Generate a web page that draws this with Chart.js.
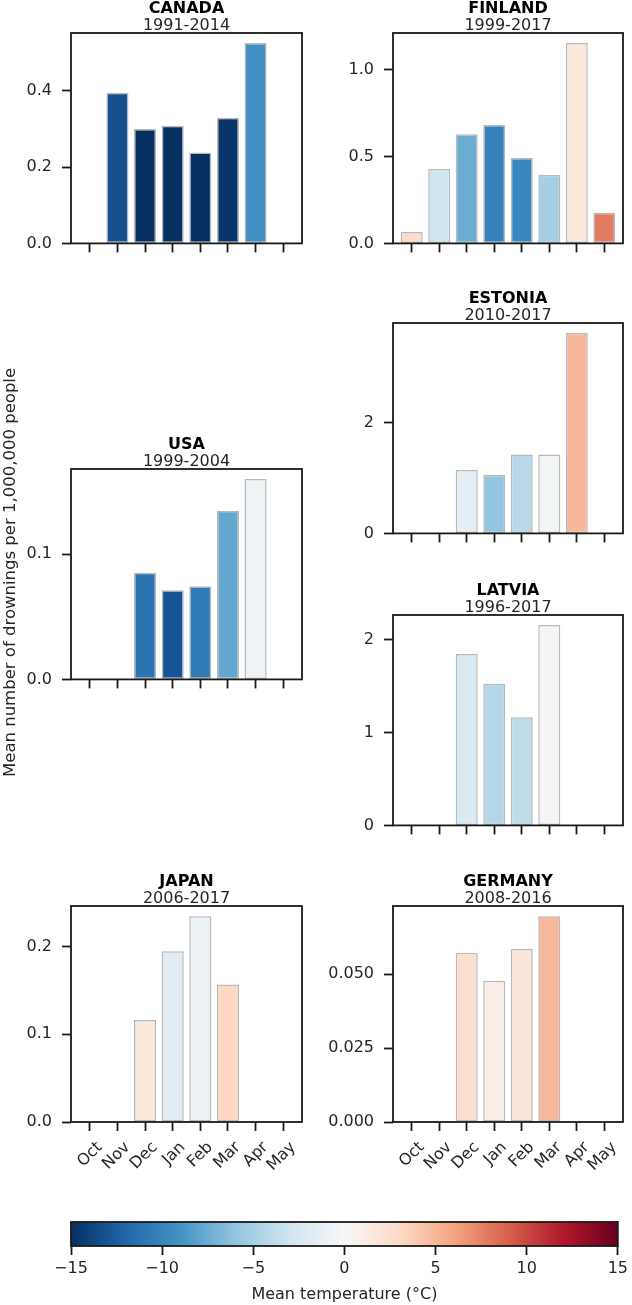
<!DOCTYPE html>
<html>
<head>
<meta charset="utf-8">
<script src="https://cdn.jsdelivr.net/npm/chart.js@4.4.0/dist/chart.umd.min.js"></script>
<style>
  html, body { margin: 0; padding: 0; background: #fff; }
  body { width: 632px; height: 1305px; position: relative; overflow: hidden; font-family: "DejaVu Sans", sans-serif; }
  canvas { position: absolute; }
  #ylab { position: absolute; left: 0; top: 0; width: 19px; height: 1144px; line-height: 19px;
          writing-mode: vertical-rl; transform: rotate(180deg); text-align: center;
          white-space: nowrap; font-size: 16.5px; font-weight: normal; color: #262626; }
</style>
</head>
<body>
<canvas id="canada"  width="310" height="265" style="left:0;top:-2px"></canvas>
<canvas id="finland" width="316" height="265" style="left:316px;top:-2px"></canvas>
<canvas id="usa"     width="310" height="265" style="left:0;top:434px"></canvas>
<canvas id="estonia" width="316" height="265" style="left:316px;top:288px"></canvas>
<canvas id="latvia"  width="316" height="265" style="left:316px;top:580px"></canvas>
<canvas id="japan"   width="310" height="321" style="left:0;top:871px"></canvas>
<canvas id="germany" width="316" height="321" style="left:316px;top:871px"></canvas>
<canvas id="cbar"    width="632" height="105" style="left:0;top:1200px"></canvas>
<div id="ylab">Mean number of drownings per 1,000,000 people</div>

<script>
const months = ['Oct', 'Nov', 'Dec', 'Jan', 'Feb', 'Mar', 'Apr', 'May'];

// drownings per 1,000,000 people, and mean temperature (°C) giving the bar colour
const canadaRate  = [null, 0.395, 0.300, 0.308, 0.238, 0.329, 0.525, null];
const canadaTemp  = [null, -13.3, -15, -15, -15, -14.7, -9.3, null];
const canadaTicks = [0, 0.2, 0.4];

const finlandRate  = [0.066, 0.429, 0.628, 0.682, 0.492, 0.395, 1.154, 0.177];
const finlandTemp  = [3.0, -3.0, -7.5, -10.2, -9.8, -5.2, 1.6, 7.8];
const finlandTicks = [0, 0.5, 1.0];

const usaRate  = [null, null, 0.0852, 0.0712, 0.0743, 0.1346, 0.160, null];
const usaTemp  = [null, null, -11.1, -13.0, -10.7, -7.8, -0.6, null];
const usaTicks = [0, 0.1];

const estoniaRate  = [null, null, 1.147, 1.059, 1.43, 1.43, 3.63, null];
const estoniaTemp  = [null, null, -1.5, -6.0, -4.2, -0.4, 5.0, null];
const estoniaTicks = [0, 2];

const latviaRate  = [null, null, 1.845, 1.526, 1.165, 2.158, null, null];
const latviaTemp  = [null, null, -2.3, -4.4, -3.8, -0.3, null, null];
const latviaTicks = [0, 1, 2];

const japanRate  = [null, null, 0.1163, 0.1947, 0.2345, 0.1568, null, null];
const japanTemp  = [null, null, 1.6, -1.7, -0.8, 3.2, null, null];
const japanTicks = [0, 0.1, 0.2];

const germanyRate  = [null, null, 0.0573, 0.0478, 0.0585, 0.0696, null, null];
const germanyTemp  = [null, null, 2.5, 1.0, 1.8, 4.9, null, null];
const germanyTicks = [0, 0.025, 0.05];

const cbarTicks = [-15, -10, -5, 0, 5, 10, 15];

// RdBu_r, -15 .. 15
const rdbu = ['#053061', '#2166ac', '#4393c3', '#92c5de', '#d1e5f0', '#f7f7f7',
              '#fddbc7', '#f4a582', '#d6604d', '#b2182b', '#67001f'];

function hexRgb(h) {
    return [1, 3, 5].map(i => parseInt(h.substr(i, 2), 16));
}

function tempColor(t) {
    let f = (Math.max(-15, Math.min(15, t)) + 15) / 30 * 10;
    let i = Math.min(9, Math.floor(f));
    let a = hexRgb(rdbu[i]), b = hexRgb(rdbu[i + 1]);
    let k = f - i;
    let c = a.map((v, j) => Math.round(v + (b[j] - v) * k));
    return 'rgb(' + c.join(',') + ')';
}

const fam = '"DejaVu Sans", sans-serif';
const ink = '#262626';
const fs = 16;

const frame = {
    id: 'frame',
    afterDatasetsDraw(chart) {
        const a = chart.chartArea, ctx = chart.ctx;
        ctx.save();
        ctx.strokeStyle = '#1a1a1a';
        ctx.lineWidth = 1.8;
        ctx.strokeRect(a.left, a.top, a.right - a.left, a.bottom - a.top);
        ctx.restore();
    }
};

const tickGrid = { display: true, offset: false, drawOnChartArea: false, drawTicks: true,
                   tickLength: 9, tickWidth: 1.8, tickColor: '#1a1a1a' };

function panel(id, name, years, rate, temp, ticks, digits, yw, padR, xh, showMonths) {
    const pts = [], cols = [];
    rate.forEach((v, i) => {
        if (v === null) return;
        pts.push({ x: i, y: v });
        cols.push(tempColor(temp[i]));
    });
    const ymax = Math.max(...pts.map(p => p.y)) * 1.05;

    new Chart(document.getElementById(id), {
        type: 'bar',
        data: {
            datasets: [{
                data: pts,
                backgroundColor: cols,
                borderColor: '#b8b8b8',
                borderWidth: 1.5,
                borderSkipped: false,
                barPercentage: 0.8,
                categoryPercentage: 1
            }]
        },
        options: {
            responsive: false,
            animation: false,
            layout: { padding: { left: 0, right: padR, top: 0, bottom: 0 } },
            plugins: {
                legend: { display: false },
                tooltip: { enabled: false },
                title: {
                    display: true, text: name, fullSize: false, color: '#000',
                    font: { family: fam, size: fs, weight: 'bold', lineHeight: 17 / fs },
                    padding: { top: 2, bottom: 0 }
                },
                subtitle: {
                    display: true, text: years, fullSize: false, color: ink,
                    font: { family: fam, size: fs, lineHeight: 17 / fs },
                    padding: { top: 0, bottom: -1 }
                }
            },
            scales: {
                x: {
                    type: 'linear', min: -0.68, max: 7.68, offset: false,
                    afterBuildTicks: s => { s.ticks = months.map((m, i) => ({ value: i })); },
                    afterFit: s => { s.height = xh; },
                    grid: tickGrid,
                    border: { display: false },
                    ticks: {
                        display: showMonths,
                        autoSkip: false,
                        minRotation: 45, maxRotation: 45,
                        labelOffset: 10, padding: 7,
                        callback: v => months[v],
                        color: ink, font: { family: fam, size: fs }
                    }
                },
                y: {
                    min: 0, max: ymax,
                    afterBuildTicks: s => { s.ticks = ticks.map(v => ({ value: v })); },
                    afterFit: s => { s.width = yw; },
                    grid: tickGrid,
                    border: { display: false },
                    ticks: {
                        padding: 10,
                        callback: v => v.toFixed(digits),
                        color: ink, font: { family: fam, size: fs }
                    }
                }
            }
        },
        plugins: [frame]
    });
}

panel('canada',  'CANADA',  '1991-2014', canadaRate,  canadaTemp,  canadaTicks,  1, 71, 8, 14, false);
panel('finland', 'FINLAND', '1999-2017', finlandRate, finlandTemp, finlandTicks, 1, 77, 9, 14, false);
panel('usa',     'USA',     '1999-2004', usaRate,     usaTemp,     usaTicks,     1, 71, 8, 14, false);
panel('estonia', 'ESTONIA', '2010-2017', estoniaRate, estoniaTemp, estoniaTicks, 0, 77, 9, 14, false);
panel('latvia',  'LATVIA',  '1996-2017', latviaRate,  latviaTemp,  latviaTicks,  0, 77, 9, 14, false);
panel('japan',   'JAPAN',   '2006-2017', japanRate,   japanTemp,   japanTicks,   1, 71, 8, 70, true);
panel('germany', 'GERMANY', '2008-2016', germanyRate, germanyTemp, germanyTicks, 3, 77, 9, 70, true);

// colour bar
const gradientFill = {
    id: 'gradientFill',
    beforeDatasetsDraw(chart) {
        const a = chart.chartArea, ctx = chart.ctx;
        const g = ctx.createLinearGradient(a.left, 0, a.right, 0);
        rdbu.forEach((c, i) => g.addColorStop(i / 10, c));
        ctx.save();
        ctx.fillStyle = g;
        ctx.fillRect(a.left, a.top, a.right - a.left, a.bottom - a.top);
        ctx.restore();
    }
};

new Chart(document.getElementById('cbar'), {
    type: 'scatter',
    data: { datasets: [] },
    options: {
        responsive: false,
        animation: false,
        layout: { padding: { left: 71, right: 9, top: 22, bottom: 0 } },
        plugins: { legend: { display: false }, tooltip: { enabled: false } },
        scales: {
            x: {
                type: 'linear', min: -15, max: 15,
                afterBuildTicks: s => { s.ticks = cbarTicks.map(v => ({ value: v })); },
                afterFit: s => { s.height = 59; },
                grid: tickGrid,
                border: { display: false },
                ticks: {
                    padding: 4,
                    callback: v => String(v).replace('-', '\u2212'),
                    color: ink, font: { family: fam, size: fs }
                },
                title: {
                    display: true, text: 'Mean temperature (°C)', color: ink,
                    font: { family: fam, size: fs, lineHeight: 17 / fs },
                    padding: { top: 0, bottom: 2 }
                }
            },
            y: { display: false, min: 0, max: 1 }
        }
    },
    plugins: [gradientFill, frame]
});
</script>
</body>
</html>
